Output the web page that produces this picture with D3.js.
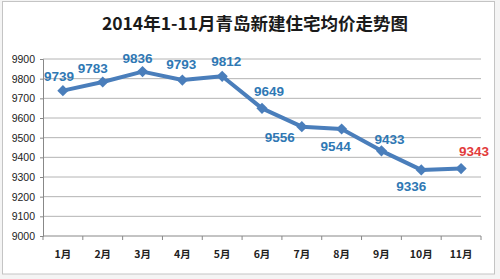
<!DOCTYPE html>
<html>
<head>
<meta charset="utf-8">
<script src="https://cdn.jsdelivr.net/npm/d3@7"></script>
<style>
  body { margin: 0; background: #f4f4f4; }
  svg { display: block; font-family: "Noto Sans CJK SC", "DejaVu Sans", sans-serif; }
</style>
</head>
<body>
<svg class="root"></svg>
<script>
var months = ["1月", "2月", "3月", "4月", "5月", "6月", "7月", "8月", "9月", "10月", "11月"];
var prices = [9739, 9783, 9836, 9793, 9812, 9649, 9556, 9544, 9433, 9336, 9343];
var yTicks = [9000, 9100, 9200, 9300, 9400, 9500, 9600, 9700, 9800, 9900];
// label offsets from the point (dx, dy)
var labelPos = [[-4, -14], [-10, -14], [-5, -13], [-1, -16], [4, -15], [7, -17],
                [-22, 11], [-6, 17], [8, -12], [-10, 16], [13, -17]];

var W = 500, H = 279;
var margin = {top: 59, right: 19, bottom: 43, left: 43},
    width = W - margin.left - margin.right,
    height = H - margin.top - margin.bottom;

var svg = d3.select(".root").attr("width", W).attr("height", H);

svg.append("rect")
  .attr("x", 2.5).attr("y", 1.5).attr("width", 492).attr("height", 272.5)
  .attr("fill", "#fff").attr("stroke", "#c4c4c4");

svg.append("text")
  .attr("x", 255).attr("y", 30)
  .attr("text-anchor", "middle")
  .attr("font-size", 17.5).attr("font-weight", "bold")
  .attr("fill", "#1a1a1a")
  .text("2014年1-11月青岛新建住宅均价走势图");

var chart = svg.append("g")
  .attr("transform", "translate(" + margin.left + "," + margin.top + ")");

var x = d3.scalePoint().domain(months).range([0, width]).padding(0.5);
var xb = d3.scaleBand().domain(months).range([0, width]);
var y = d3.scaleLinear().domain([9000, 9900]).range([height, 0]);

// gridlines
chart.selectAll(".grid")
  .data(yTicks.slice(1))
  .enter().append("line")
    .attr("x1", 0).attr("x2", width)
    .attr("y1", function(d) { return y(d); })
    .attr("y2", function(d) { return y(d); })
    .attr("stroke", "#b4b4b4").attr("stroke-width", 1);

// y axis
var yAxis = chart.append("g")
  .call(d3.axisLeft(y).tickValues(yTicks).tickFormat(d3.format("d")).tickSize(3).tickPadding(5));
yAxis.select(".domain").attr("stroke", "#888");
yAxis.selectAll(".tick line").attr("stroke", "#888");
yAxis.selectAll("text").attr("font-size", 10.5).attr("fill", "#222")
  .attr("font-family", "Liberation Sans, Arial, sans-serif");

// x axis with ticks at category boundaries
var xg = chart.append("g").attr("transform", "translate(0," + height + ")");
xg.append("line").attr("x1", 0).attr("x2", width).attr("stroke", "#888");
xg.selectAll(".xt")
  .data(months.concat(["end"]))
  .enter().append("line")
    .attr("x1", function(d, i) { return i < months.length ? xb(d) : width; })
    .attr("x2", function(d, i) { return i < months.length ? xb(d) : width; })
    .attr("y1", 0).attr("y2", 4)
    .attr("stroke", "#888");
xg.selectAll(".xl")
  .data(months)
  .enter().append("text")
    .attr("x", function(d) { return x(d); })
    .attr("y", 22)
    .attr("text-anchor", "middle")
    .attr("font-size", 10.5).attr("font-weight", "bold")
    .attr("fill", "#222")
    .text(function(d) { return d; });

// line
var line = d3.line()
  .x(function(d, i) { return x(months[i]); })
  .y(function(d) { return y(d); });

chart.append("path")
  .datum(prices)
  .attr("d", line)
  .attr("fill", "none")
  .attr("stroke", "#4a7ebb")
  .attr("stroke-width", 4)
  .attr("stroke-linejoin", "round");

chart.selectAll(".pt")
  .data(prices)
  .enter().append("path")
    .attr("d", d3.symbol().type(d3.symbolDiamond2).size(80))
    .attr("transform", function(d, i) { return "translate(" + x(months[i]) + "," + y(d) + ")"; })
    .attr("fill", "#4a7ebb");

chart.selectAll(".lbl")
  .data(prices)
  .enter().append("text")
    .attr("x", function(d, i) { return x(months[i]) + labelPos[i][0]; })
    .attr("y", function(d, i) { return y(d) + labelPos[i][1]; })
    .attr("dy", "0.35em")
    .attr("text-anchor", "middle")
    .attr("font-size", 13.5).attr("font-weight", "bold")
    .attr("font-family", "Liberation Sans, Arial, sans-serif")
    .attr("fill", function(d, i) { return i === prices.length - 1 ? "#e23c3c" : "#2f78b4"; })
    .text(function(d) { return d; });
</script>
</body>
</html>
